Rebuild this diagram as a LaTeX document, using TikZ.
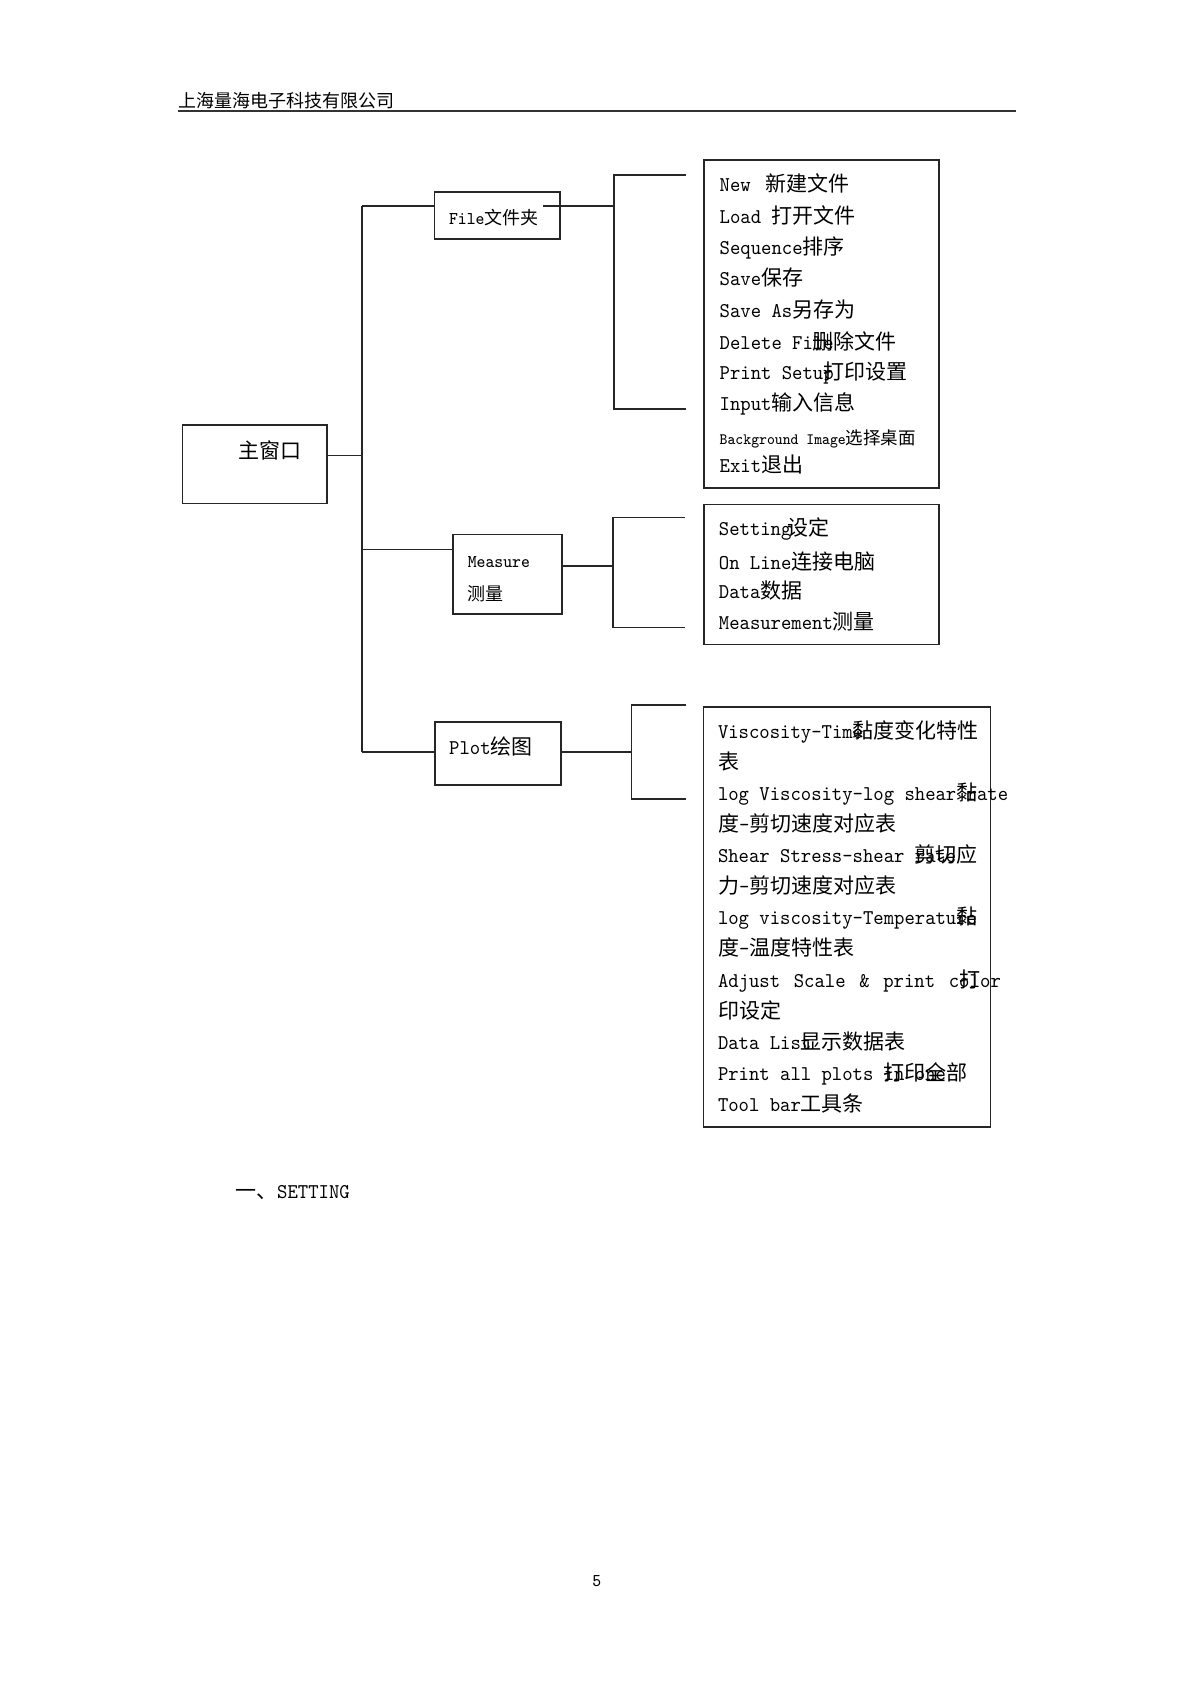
\documentclass[tikz,border=0pt]{standalone}
\usepackage{fontspec}
\newfontfamily\latfont{Latin Modern Mono}[FakeStretch=0.94]
\newfontfamily\cjk{Noto Sans CJK SC}
\newcommand{\zh}[1]{{\cjk #1}}
\tikzset{
  box/.style={draw=black!85, line width=0.8pt, inner sep=0pt, anchor=north west},
  conn/.style={draw=black!85, line width=0.8pt},
  item/.style={anchor=base west, inner sep=0pt, font=\fontsize{10.5}{12}\selectfont\latfont},
  small/.style={inner sep=0pt, font=\fontsize{9}{11}\selectfont\latfont},
}
\begin{document}
\begin{tikzpicture}[x=0.5pt,y=-0.5pt]
  \useasboundingbox (0,0) rectangle (1191,1684);
  % page header
  \node[small, anchor=west] (head) at (177.7,100.2) {\zh{上海量海电子科技有限公司}};
  \draw[line width=1.1pt, black!80] (177.7,111) -- (1015.6,111);
  % boxes
  \node[box, minimum width=72.1pt, minimum height=39.2pt] (mainwin) at (181.8,424.3) {};
  \node[box, minimum width=62.85pt, minimum height=23.35pt] (filebox) at (433.6,191.3) {};
  \node[box, minimum width=54.5pt, minimum height=39.75pt] (measbox) at (452,533.5) {};
  \node[box, minimum width=63pt, minimum height=31.5pt] (plotbox) at (434,721) {};
  \node[box, minimum width=117.5pt, minimum height=164pt] (filelist) at (703.3,159.3) {};
  \node[box, minimum width=117.5pt, minimum height=70pt] (measlist) at (703.3,503.5) {};
  \node[box, minimum width=143.5pt, minimum height=210pt] (plotlist) at (702.5,706) {};
  % box texts
  \node[item, anchor=center] (maintxt) at (270,450) {\zh{主窗口}};
  \node[small, anchor=west] (filetxt) at (448.6,218) {File\zh{文件夹}};
  \node[small, anchor=west] (meastxt) at (467.4,562) {Measure};
  \node[small, anchor=west] (meastxtb) at (467.4,593.4) {\zh{测量}};
  \node[item, anchor=west] (plottxt) at (448.8,746) {Plot\zh{绘图}};
  % spine
  \coordinate (sp1) at (361.8,206);
  \coordinate (sp2) at (361.8,455.3);
  \coordinate (sp3) at (361.8,549.5);
  \coordinate (sp4) at (361.8,751.7);
  \draw[conn] (sp1) -- (sp4);
  \draw[conn] (mainwin.east |- sp2) -- (sp2);
  \draw[conn] (sp1) -- (filebox.west |- sp1);
  \draw[conn] (sp3) -- (measbox.west |- sp3);
  \draw[conn] (sp4) -- (plotbox.west |- sp4);
  % brackets
  \coordinate (fb) at (614,206);
  \coordinate (fbt) at (614,175);   \coordinate (fet) at (686,175);
  \coordinate (fbb) at (614,409);   \coordinate (feb) at (686,409);
  \draw[conn] ([xshift=-9pt]filebox.east |- fb) -- (fb);
  \draw[conn] (fet) -- (fbt) -- (fbb) -- (feb);
  \coordinate (mb) at (612.9,566);
  \coordinate (mbt) at (612.9,517.5); \coordinate (met) at (685,517.5);
  \coordinate (mbb) at (612.9,627.5); \coordinate (meb) at (685,627.5);
  \draw[conn] (measbox.east |- mb) -- (mb);
  \draw[conn] (met) -- (mbt) -- (mbb) -- (meb);
  \coordinate (pb) at (631.4,751.7);
  \coordinate (pbt) at (631.4,705);   \coordinate (pet) at (686,705);
  \coordinate (pbb) at (631.4,799);   \coordinate (peb) at (686,799);
  \draw[conn] (plotbox.east |- pb) -- (pb);
  \draw[conn] (pet) -- (pbt) -- (pbb) -- (peb);
  % file menu
  \foreach \y/\t [count=\i] in {
    184.3/{New\hspace{0.7em}\zh{新建文件}},
    215.7/{Load \zh{打开文件}},
    247.3/{Sequence\zh{排序}},
    278.3/{Save\zh{保存}},
    310/{Save As\zh{另存为}},
    341.7/{Delete Fi\rlap{le}\zh{删除文件}},
    371.7/{Print Setu\rlap{p}\zh{打印设置}},
    403.3/{Input\zh{输入信息}},
    437.3/{{\fontsize{7.9}{9}\selectfont Background Image}\zh{\fontsize{8.75}{10}\selectfont 选择桌面}},
    465/{Exit\zh{退出}}}
    \node[item] (file\i) at (719.3,\y+7.5) {\t};
  % measure menu
  \foreach \y/\t [count=\i] in {
    527.7/{Setting\hspace{-0.2em}\zh{设定}},
    561.7/{On Line\zh{连接电脑}},
    590.7/{Data\zh{数据}},
    621.7/{Measurement\zh{测量}}}
    \node[item] (meas\i) at (718.5,\y+7.5) {\t};
  % plot menu
  \foreach \t [count=\i] in {
    {Viscosity-Tim\rlap{e}\zh{黏度变化特性}},
    {\zh{表}},
    {log Viscosity-log shear\rlap{\zh{黏}} rate},
    {\zh{度}-\zh{剪切速度对应表}},
    {Shear Stress-shear \rlap{rate}\zh{剪切应}},
    {\zh{力}-\zh{剪切速度对应表}},
    {log viscosity-Temperatu\rlap{re}\zh{黏}},
    {\zh{度}-\zh{温度特性表}},
    {Adjust\hspace{0.65em}Scale\hspace{0.65em}\&\hspace{0.65em}print\hspace{0.65em}c\rlap{ol}\zh{打}or},
    {\zh{印设定}},
    {Data Lis\rlap{t}\zh{显示数据表}},
    {Print all plots \rlap{in one}\zh{打印全部}},
    {Tool bar\zh{工具条}}}
    \node[item] (plot\i) at (717.6,730.7+31.1*\i-31.1+7.5) {\t};
  % section title and page number
  \node[item, anchor=west] (sect) at (234.8,1193) {\zh{一、}SETTING};
  \node[small] (pgno) at (596.7,1581) {5};
\end{tikzpicture}
\end{document}
